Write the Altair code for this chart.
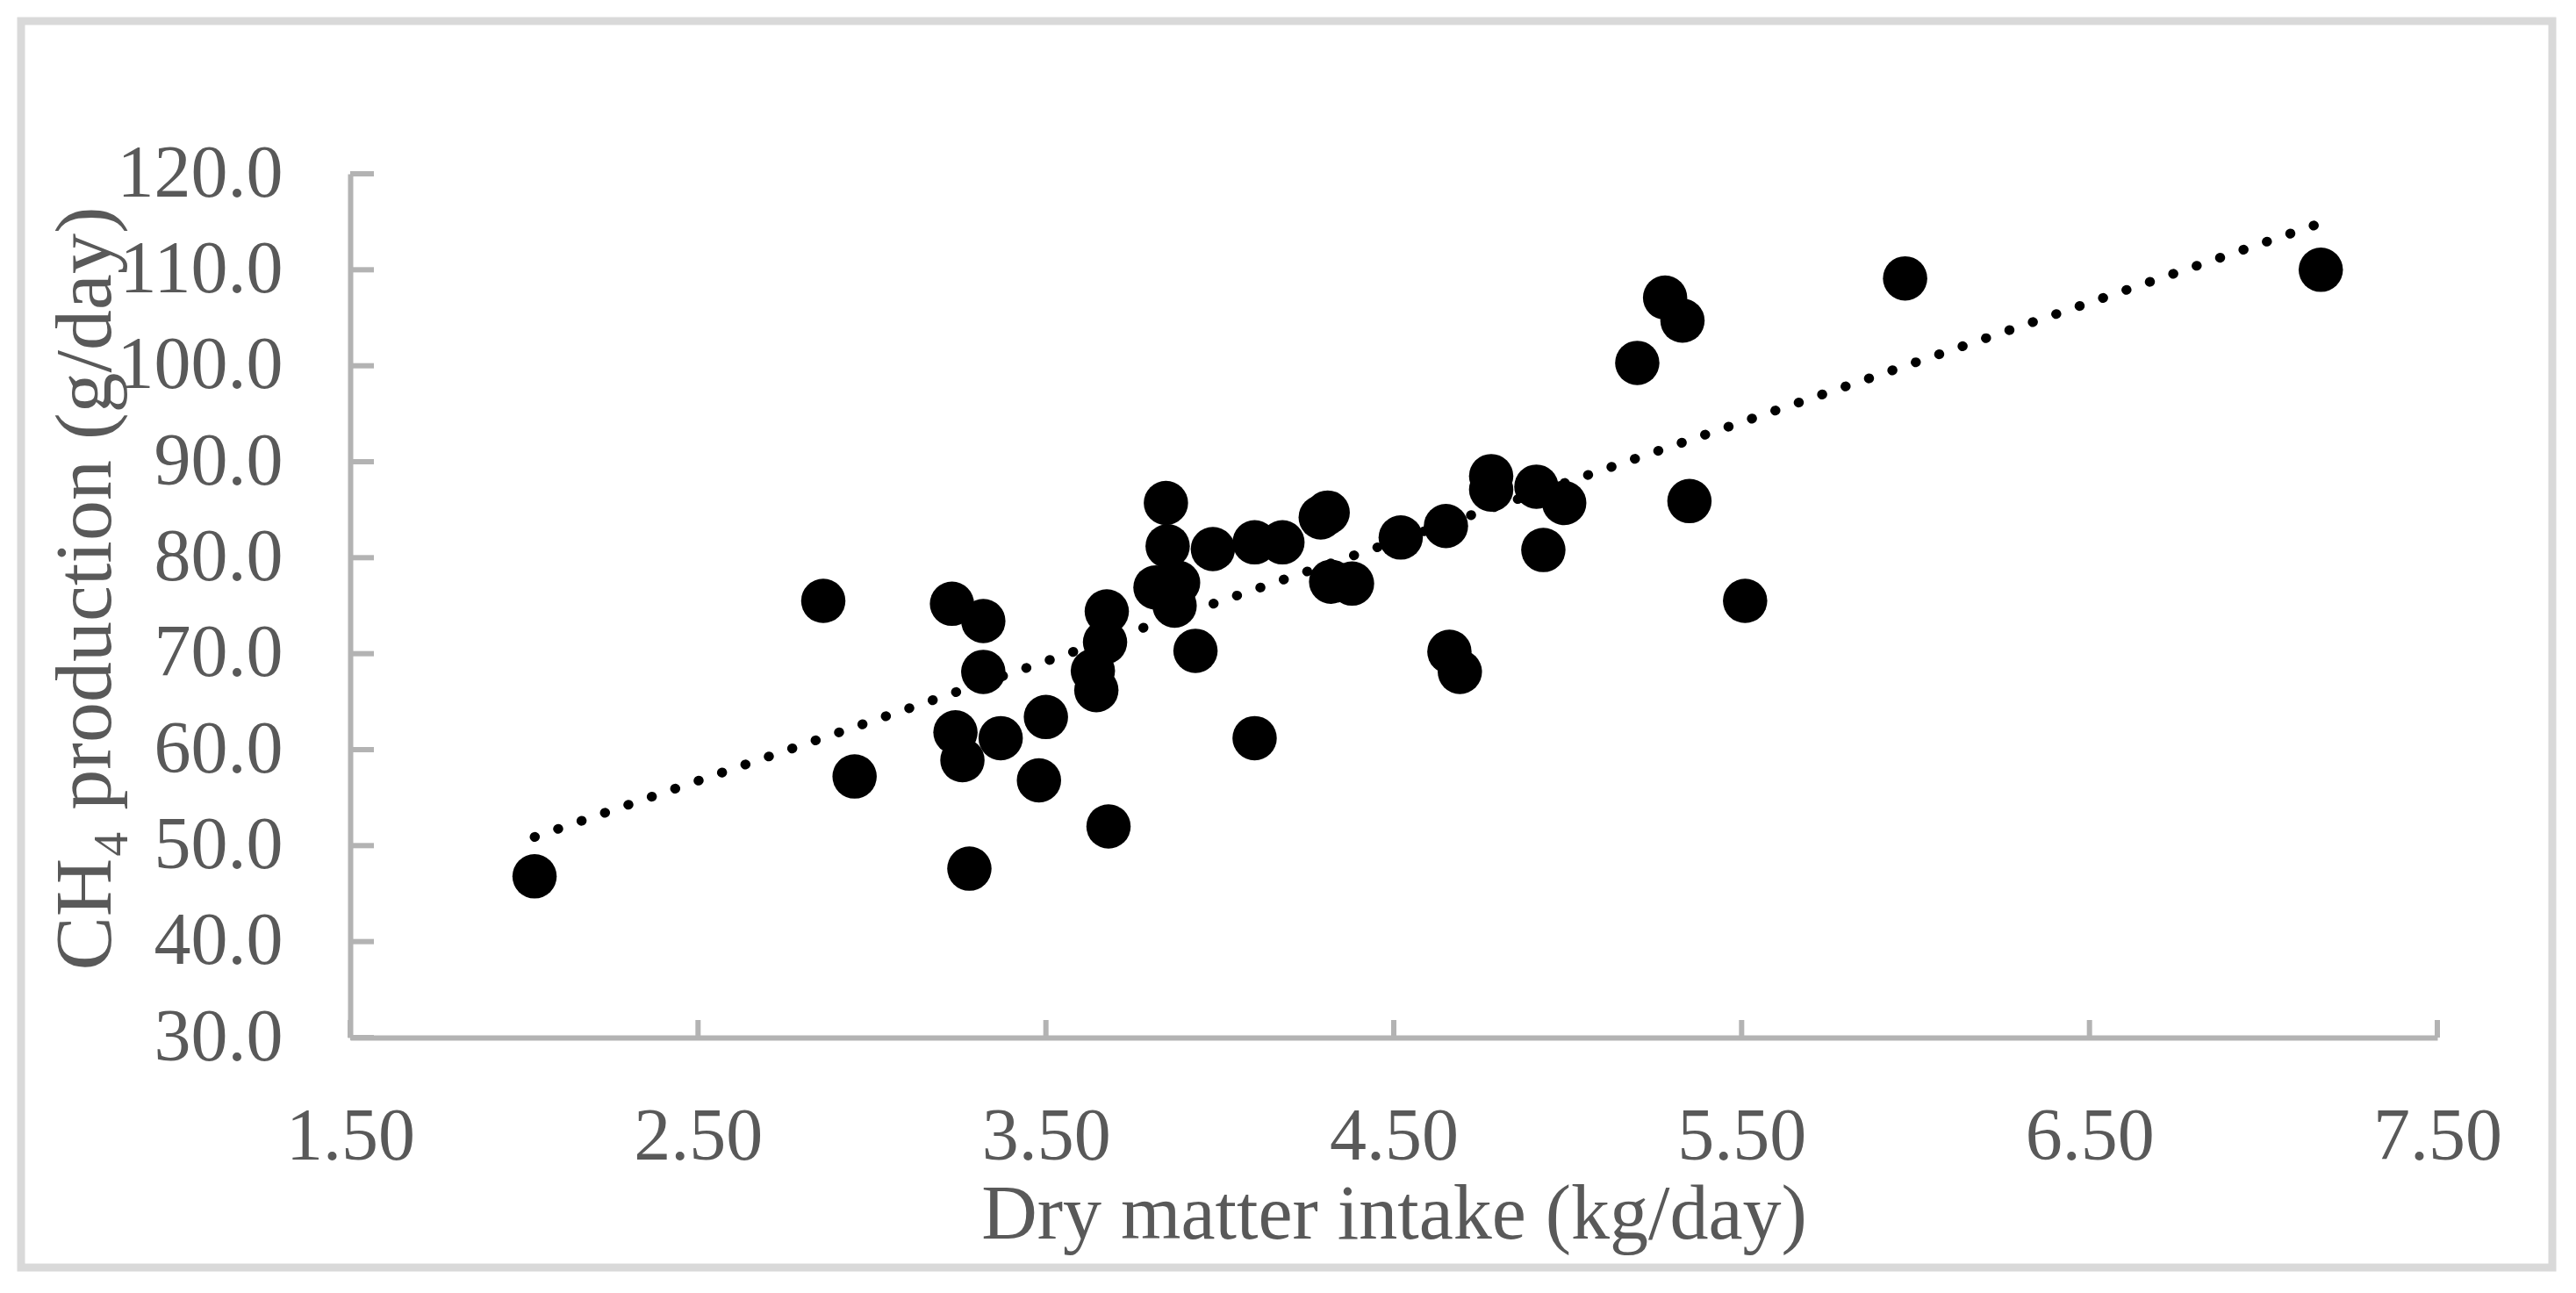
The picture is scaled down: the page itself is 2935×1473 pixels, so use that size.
import altair as alt
import pandas as pd

# Dry matter intake (kg/day) and CH4 production (g/day)
dmi = [2.03, 2.86, 2.95, 3.23, 3.32, 3.32, 3.24, 3.26, 3.37, 3.28,
       3.50, 3.48, 3.635, 3.645, 3.67, 3.675, 3.68, 3.845, 3.85, 3.815,
       3.87, 3.88, 3.98, 3.93, 4.10, 4.10, 4.18, 4.29, 4.31, 4.32,
       4.38, 4.52, 4.65, 4.66, 4.69, 4.78, 4.78, 4.91, 4.99, 4.93,
       5.20, 5.28, 5.33, 5.35, 5.51, 5.97, 7.165]
ch4 = [46.8, 75.5, 57.2, 75.2, 73.4, 68.1, 61.8, 58.9, 61.2, 47.6,
       63.4, 56.8, 68.2, 66.2, 71.2, 74.4, 52.0, 85.7, 81.2, 76.9,
       75.0, 77.4, 80.9, 70.3, 61.2, 81.6, 81.6, 84.2, 84.7, 77.5,
       77.3, 82.1, 83.3, 70.2, 68.1, 88.5, 87.1, 87.4, 85.7, 80.8,
       100.3, 107.1, 104.7, 85.9, 75.5, 109.1, 110.0]

# dotted linear trend line (end points)
trend_x = [2.03, 7.16]
trend_y = [50.9, 114.8]

x_ticks = [1.5, 2.5, 3.5, 4.5, 5.5, 6.5, 7.5]
y_ticks = [30, 40, 50, 60, 70, 80, 90, 100, 110, 120]

FONT = "Liberation Serif"
TEXT = "#595959"
AXIS = "#b3b3b3"
W, H = 2378, 984

pts = pd.DataFrame({"dmi": dmi, "ch4": ch4})
trend = pd.DataFrame({"dmi": trend_x, "ch4": trend_y})

xscale = alt.Scale(domain=[1.5, 7.5], nice=False, zero=False)
yscale = alt.Scale(domain=[30, 120], nice=False, zero=False)

xaxis = alt.Axis(values=x_ticks, format=".2f", grid=False, ticks=False, tickSize=0,
                 domainColor=AXIS, domainWidth=6, labelFont=FONT, labelFontSize=84,
                 labelColor=TEXT, labelPadding=72, labelFlush=False, labelLimit=0,
                 title="Dry matter intake (kg/day)", titleFont=FONT, titleFontSize=88,
                 titleFontWeight="normal", titleColor=TEXT, titleY=228,
                 titleBaseline="alphabetic")
yaxis = alt.Axis(values=y_ticks, format=".1f", grid=False, ticks=False, tickSize=0,
                 domainColor=AXIS, domainWidth=6, labelFont=FONT, labelFontSize=84,
                 labelColor=TEXT, labelPadding=77, labelFlush=False, labelLimit=0,
                 title="CH₄ production (g/day)", titleFont=FONT, titleFontSize=92,
                 titleFontWeight="normal", titleColor=TEXT, titleX=-274, titleY=472,
                 titleAngle=270, titleAlign="center", titleBaseline="alphabetic",
                 titleLimit=0)

points = alt.Chart(pts).mark_circle(size=2550, color="black", opacity=1).encode(
    x=alt.X("dmi:Q", scale=xscale, axis=xaxis),
    y=alt.Y("ch4:Q", scale=yscale, axis=yaxis),
)

line = alt.Chart(trend).mark_line(color="black", strokeWidth=11,
                                  strokeDash=[0.5, 27.7], strokeCap="round").encode(
    x=alt.X("dmi:Q", scale=xscale),
    y=alt.Y("ch4:Q", scale=yscale),
)

ytick_marks = alt.Chart(pd.DataFrame({"v": y_ticks})).mark_rule(
    color=AXIS, strokeWidth=6).encode(
    y=alt.Y("v:Q", scale=yscale), x=alt.value(0), x2=alt.value(27))

xtick_marks = alt.Chart(pd.DataFrame({"v": x_ticks})).mark_rule(
    color=AXIS, strokeWidth=6).encode(
    x=alt.X("v:Q", scale=xscale), y=alt.value(H), y2=alt.value(H - 20))

frame = alt.Chart(alt.Data(values=[{"a": 1}])).mark_rect(
    fill=None, stroke="#d9d9d9", strokeWidth=9).encode(
    x=alt.value(-375), x2=alt.value(2509), y=alt.value(-174), y2=alt.value(1246))

chart = alt.layer(frame, ytick_marks, xtick_marks, points, line).properties(
    width=W, height=H,
    autosize=alt.AutoSizeParams(type="none"),
    padding={"left": 391, "top": 190, "right": 140, "bottom": 272},
    background="white",
).configure_view(stroke=None)

chart.save("out.html", embed_options={"renderer": "svg", "actions": False})
